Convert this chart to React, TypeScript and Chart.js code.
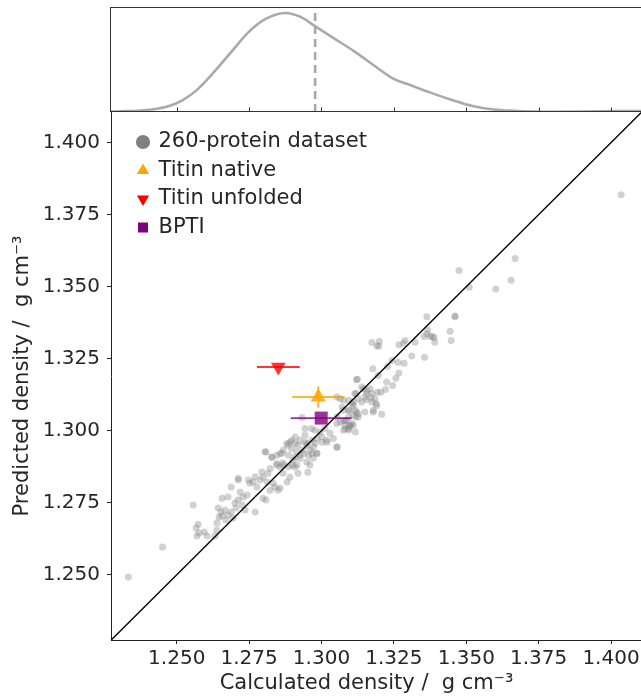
import React, { useEffect, useRef } from 'react';
import { Chart, registerables } from 'chart.js';

Chart.register(...registerables);

// ---------- axis ranges / ticks ----------
const X_MIN = 1.2273;
const X_MAX = 1.4107;
const Y_MIN = 1.2274;
const Y_MAX = 1.4106;
const tickValues = [1.25, 1.275, 1.3, 1.325, 1.35, 1.375, 1.4];

// ---------- 260-protein dataset (calculated vs predicted density) ----------
const calculated = [
  1.2333, 1.2451, 1.2557, 1.2574, 1.2567, 1.2570, 1.2595, 1.2605, 1.2577, 1.2632,
  1.2639, 1.2646, 1.2639, 1.2657, 1.2677, 1.2688, 1.2643, 1.2653, 1.2667, 1.2677,
  1.2688, 1.2695, 1.2670, 1.2657, 1.2705, 1.2701, 1.2712, 1.2726, 1.2736, 1.2729,
  1.2743, 1.2719, 1.2712, 1.2753, 1.2764, 1.2777, 1.2788, 1.2798, 1.2815, 1.2812,
  1.2822, 1.2798, 1.2808, 1.2771, 1.2839, 1.2850, 1.2857, 1.2833, 1.2867, 1.2881,
  1.2891, 1.2857, 1.2867, 1.2846, 1.2829, 1.2846, 1.2864, 1.2808, 1.2898, 1.2908,
  1.2919, 1.2902, 1.2926, 1.2936, 1.2960, 1.2953, 1.2971, 1.2967, 1.2984, 1.2950,
  1.2943, 1.2884, 1.2891, 1.2908, 1.2919, 1.2978, 1.3002, 1.3019, 1.3054,
  1.3174, 1.3191, 1.3177, 1.3196, 1.3121, 1.3139, 1.3156, 1.3174, 1.3185, 1.3150,
  1.3115, 1.3127, 1.3139, 1.3174, 1.3191, 1.3110, 1.3093, 1.3076, 1.3121, 1.3150,
  1.3179, 1.3127, 1.3110, 1.3087, 1.3081, 1.3098, 1.3093, 1.3076, 1.3105, 1.3053,
  1.3071, 1.3094, 1.3106, 1.3053, 1.3094, 1.3082, 1.3065, 1.3053, 1.3082, 1.3094,
  1.3117,
  1.2933, 1.2943, 1.2966, 1.2977, 1.2995, 1.3012, 1.3029, 1.3041, 1.3053, 1.3018,
  1.3001, 1.2984, 1.2966, 1.2949, 1.2926, 1.2943, 1.2909, 1.2897, 1.2880, 1.2868,
  1.2857, 1.2886, 1.2897, 1.2915, 1.2909, 1.2926, 1.2938, 1.2955, 1.2961, 1.2972,
  1.2984, 1.2949, 1.2915, 1.2886, 1.2868, 1.2846, 1.2823, 1.2805, 1.2828, 1.2794,
  1.2771, 1.2748, 1.2713,
  1.3364, 1.3461, 1.3461, 1.3444, 1.3448, 1.3367, 1.3354, 1.3375, 1.3389, 1.3391,
  1.3364, 1.3323, 1.3289, 1.3283, 1.3268, 1.3200, 1.3198, 1.3312, 1.3356, 1.3243,
  1.3264, 1.3285, 1.3228, 1.3124, 1.3267, 1.3257, 1.3225, 1.3205, 1.3193, 1.3221,
  1.3246, 1.3145, 1.3168, 1.3156, 1.3171, 1.3189, 1.3208, 1.3179, 1.3156, 1.3119,
  1.3110, 1.3076, 1.3064, 1.3116, 1.3119, 1.3127, 1.3096, 1.3076, 1.3110, 1.3099,
  1.4035, 1.3669, 1.3655, 1.3602, 1.3475, 1.3510, 1.3383,
];
const predicted = [
  1.2493, 1.2597, 1.2742, 1.2676, 1.2663, 1.2635, 1.2649, 1.2635, 1.2645, 1.2635,
  1.2680, 1.2701, 1.2656, 1.2766, 1.2770, 1.2805, 1.2732, 1.2718, 1.2725, 1.2708,
  1.2718, 1.2697, 1.2690, 1.2704, 1.2732, 1.2749, 1.2760, 1.2742, 1.2725, 1.2770,
  1.2777, 1.2787, 1.2829, 1.2818, 1.2822, 1.2805, 1.2829, 1.2839, 1.2853, 1.2822,
  1.2794, 1.2766, 1.2760, 1.2718, 1.2805, 1.2794, 1.2801, 1.2818, 1.2853, 1.2822,
  1.2839, 1.2874, 1.2888, 1.2881, 1.2908, 1.2915, 1.2922, 1.2926, 1.2881, 1.2874,
  1.2853, 1.2898, 1.2915, 1.2933, 1.2881, 1.2856, 1.2905, 1.2922, 1.2922, 1.2950,
  1.2960, 1.2950, 1.2960, 1.2957, 1.2950, 1.2957, 1.2960, 1.2960, 1.2943,
  1.3306, 1.3294, 1.3215, 1.3192, 1.3177, 1.3152, 1.3140, 1.3129, 1.3111, 1.3117,
  1.3129, 1.3111, 1.3100, 1.3100, 1.3088, 1.3088, 1.3071, 1.3071, 1.3065, 1.3065,
  1.3065, 1.3048, 1.3054, 1.3036, 1.3019, 1.3019, 1.3008, 1.3002, 1.3025, 1.3117,
  1.3082, 1.3106, 1.3094, 1.3048, 1.3048, 1.3036, 1.3030, 1.3025, 1.3008, 1.3002,
  1.2996,
  1.3046, 1.3008, 1.3008, 1.3002, 1.2996, 1.3008, 1.2991, 1.2973, 1.2944, 1.2967,
  1.2978, 1.2973, 1.2967, 1.2956, 1.2967, 1.2984, 1.2978, 1.2967, 1.2956, 1.2933,
  1.2921, 1.2915, 1.2938, 1.2927, 1.2909, 1.2904, 1.2921, 1.2915, 1.2933, 1.2944,
  1.2921, 1.2892, 1.2881, 1.2875, 1.2881, 1.2886, 1.2869, 1.2927, 1.2909, 1.2857,
  1.2840, 1.2829, 1.2835,
  1.3396, 1.3396, 1.3398, 1.3345, 1.3313, 1.3350, 1.3327, 1.3327, 1.3324, 1.3307,
  1.3336, 1.3307, 1.3313, 1.3304, 1.3298, 1.3311, 1.3294, 1.3259, 1.3255, 1.3244,
  1.3238, 1.3234, 1.3223, 1.3179, 1.3200, 1.3182, 1.3169, 1.3134, 1.3134, 1.3143,
  1.3157, 1.3146, 1.3146, 1.3129, 1.3115, 1.3094, 1.3057, 1.3071, 1.3108, 1.3129,
  1.3100, 1.3106, 1.3111, 1.3071, 1.3048, 1.3059, 1.3071, 1.3036, 1.3019, 1.3016,
  1.3819, 1.3598, 1.3522, 1.3492, 1.3556, 1.3498, 1.3327,
];

// ---------- highlighted systems ----------
const specialNames = ['Titin native', 'Titin unfolded', 'BPTI'];
const specialX = [1.2989, 1.2851, 1.2999];
const specialY = [1.3117, 1.3221, 1.3044];
const specialXErr = [0.009, 0.0074, 0.0105];
const specialYErr = [0.0037, 0, 0];

// ---------- marginal KDE (top panel) ----------
const kdeX = [
  1.2271, 1.2414, 1.2474, 1.2521, 1.2569, 1.2629, 1.2688, 1.2748, 1.2807, 1.2875,
  1.2926, 1.298, 1.3046, 1.3117, 1.3189, 1.3248, 1.3308, 1.3379, 1.3451, 1.3522,
  1.3594, 1.3665, 1.3785, 1.39, 1.3999, 1.4104,
];
const kdeY = [
  0.06, 0.52, 1.21, 2.41, 4.42, 8.08, 12.1, 16.12, 18.79, 20.0,
  19.25, 17.24, 14.77, 12.1, 9.08, 6.75, 5.41, 3.86, 2.41, 1.21,
  0.52, 0.26, 0.06, 0.08, 0.2, 0.2,
];
const meanDensity = 1.2978;
const KDE_MAX = 21;

// ---------- styles ----------
const FONT = 'DejaVu Sans';
const TEXT = '#262626';
const legendNames = ['260-protein dataset', 'Titin native', 'Titin unfolded', 'BPTI'];
const legendColors = ['#808080', '#ffa500', '#ff0000', '#800080'];
const legendStyles = ['circle', 'triangle', 'triangle', 'rect'];
const legendRot = [0, 0, 180, 0];
const markerColors = ['rgba(255,165,0,0.85)', 'rgba(255,0,0,0.8)', 'rgba(128,0,128,0.8)'];
const barColors = ['rgba(255,165,0,0.8)', 'rgba(255,0,0,0.8)', 'rgba(128,0,128,0.8)'];
const barWidths = [2, 2, 1.6];
const markerStyles = ['triangle', 'triangle', 'rect'];
const markerRot = [0, 180, 0];
const markerRadius = [8.8, 8.5, 9.2];

const topFrame = {
  id: 'topFrame',
  afterDraw(chart: any) {
    const { ctx, chartArea } = chart;
    const x0 = Math.floor(chartArea.left) - 0.5;
    const y0 = Math.floor(chartArea.top) - 0.5;
    const x1 = Math.floor(chartArea.right) + 0.5;
    const y1 = Math.floor(chartArea.bottom) - 0.5;
    ctx.save();
    ctx.strokeStyle = '#333';
    ctx.lineWidth = 1;
    ctx.strokeRect(x0, y0, x1 - x0, y1 - y0);
    const xs = chart.scales.x;
    ctx.beginPath();
    tickValues.forEach((v) => {
      const px = Math.round(xs.getPixelForValue(v)) + 0.5;
      ctx.moveTo(px, y1);
      ctx.lineTo(px, y1 - 4);
    });
    ctx.stroke();
    ctx.restore();
  },
};

const legendShift = {
  id: 'legendShift',
  afterLayout(chart: any) {
    const lg = chart.legend;
    const ca = chart.chartArea;
    if (!lg) return;
    lg.left = ca.left + 19.5;
    lg.top = ca.top + 12;
    lg.right = ca.right;
    lg.bottom = ca.bottom;
  },
};

export default function App() {
  const topRef = useRef<HTMLCanvasElement>(null);
  const mainRef = useRef<HTMLCanvasElement>(null);

  useEffect(() => {
    if (!topRef.current || !mainRef.current) return;

    const topChart = new Chart(topRef.current, {
      type: 'line',
      data: {
        datasets: [
          {
            data: kdeX.map((x, i) => ({ x, y: kdeY[i] })),
            borderColor: '#aaaaaa',
            borderWidth: 2.6,
            pointRadius: 0,
            cubicInterpolationMode: 'monotone',
            fill: false,
          },
          {
            data: [
              { x: meanDensity, y: 0 },
              { x: meanDensity, y: KDE_MAX },
            ],
            borderColor: '#a8a8a8',
            borderWidth: 2.6,
            borderDash: [8, 5],
            pointRadius: 0,
            fill: false,
          },
        ],
      } as any,
      options: {
        animation: false,
        responsive: false,
        maintainAspectRatio: false,
        devicePixelRatio: 1,
        events: [],
        layout: { padding: { left: 111, right: 18, top: 8, bottom: 4 } },
        scales: {
          x: { type: 'linear', display: false, min: X_MIN, max: X_MAX },
          y: { type: 'linear', display: false, min: 0, max: KDE_MAX },
        },
        plugins: { legend: { display: false }, tooltip: { enabled: false } },
      } as any,
      plugins: [topFrame],
    });

    const datasets: any[] = [];
    // markers (drawn on top)
    specialNames.forEach((name, i) => {
      datasets.push({
        label: name,
        data: [{ x: specialX[i], y: specialY[i] }],
        pointStyle: markerStyles[i],
        rotation: markerRot[i],
        pointRadius: markerRadius[i],
        backgroundColor: markerColors[i],
        borderColor: markerColors[i],
        borderWidth: 0,
      });
    });
    // error bars
    specialNames.forEach((name, i) => {
      datasets.push({
        label: name + ' x-err',
        data: [
          { x: specialX[i] - specialXErr[i], y: specialY[i] },
          { x: specialX[i] + specialXErr[i], y: specialY[i] },
        ],
        showLine: true,
        pointRadius: 0,
        borderColor: barColors[i],
        borderWidth: barWidths[i],
      });
      if (specialYErr[i] > 0) {
        datasets.push({
          label: name + ' y-err',
          data: [
            { x: specialX[i], y: specialY[i] - specialYErr[i] },
            { x: specialX[i], y: specialY[i] + specialYErr[i] },
          ],
          showLine: true,
          pointRadius: 0,
          borderColor: barColors[i],
          borderWidth: barWidths[i],
        });
      }
    });
    // identity line
    datasets.push({
      label: 'y = x',
      data: [
        { x: X_MIN, y: X_MIN },
        { x: X_MAX, y: X_MAX },
      ],
      showLine: true,
      pointRadius: 0,
      borderColor: '#000000',
      borderWidth: 1.3,
    });
    // dataset points
    datasets.push({
      label: '260-protein dataset',
      data: calculated.map((x, i) => ({ x, y: predicted[i] })),
      pointRadius: 3.5,
      backgroundColor: 'rgba(128,128,128,0.36)',
      borderColor: 'rgba(128,128,128,0.36)',
      borderWidth: 0,
    });

    const tickFont = { family: FONT, size: 20 };
    const titleFont = { family: FONT, size: 21 };

    const mainChart = new Chart(mainRef.current, {
      type: 'scatter',
      data: { datasets },
      options: {
        animation: false,
        responsive: false,
        maintainAspectRatio: false,
        devicePixelRatio: 1,
        events: [],
        layout: { padding: { top: 112, right: 18, left: 0, bottom: 0 } },
        scales: {
          x: {
            type: 'linear',
            min: X_MIN,
            max: X_MAX,
            afterBuildTicks: (s: any) => {
              s.ticks = tickValues.map((v) => ({ value: v }));
            },
            afterFit: (s: any) => {
              s.height = 56;
            },
            ticks: {
              callback: (v: any) => Number(v).toFixed(3),
              font: tickFont,
              color: TEXT,
              padding: 3,
              maxRotation: 0,
              autoSkip: false,
            },
            grid: {
              drawOnChartArea: false,
              drawTicks: true,
              tickLength: 4,
              tickColor: '#222',
            },
            border: { display: true, color: '#222', width: 1 },
            title: {
              display: true,
              text: 'Calculated density /  g cm\u207B\u00B3   ',
              font: titleFont,
              color: TEXT,
              padding: { top: 0, bottom: 0 },
            },
          },
          y: {
            type: 'linear',
            min: Y_MIN,
            max: Y_MAX,
            afterBuildTicks: (s: any) => {
              s.ticks = tickValues.map((v) => ({ value: v }));
            },
            afterFit: (s: any) => {
              s.width = 111;
            },
            ticks: {
              callback: (v: any) => Number(v).toFixed(3),
              font: tickFont,
              color: TEXT,
              padding: 7,
              autoSkip: false,
            },
            grid: {
              drawOnChartArea: false,
              drawTicks: true,
              tickLength: 4,
              tickColor: '#222',
            },
            border: { display: true, color: '#222', width: 1 },
            title: {
              display: true,
              text: 'Predicted density /  g cm\u207B\u00B3',
              font: titleFont,
              color: TEXT,
              padding: { top: 10, bottom: 0 },
            },
          },
        },
        plugins: {
          tooltip: { enabled: false },
          legend: {
            display: true,
            position: 'chartArea',
            align: 'start',
            labels: {
              usePointStyle: true,
              boxWidth: 10,
              boxHeight: 10,
              padding: 7.5,
              font: { family: FONT, size: 21 },
              color: TEXT,
              generateLabels: () =>
                legendNames.map((t, i) => ({
                  text: t,
                  fillStyle: legendColors[i],
                  strokeStyle: legendColors[i],
                  lineWidth: 0,
                  pointStyle: legendStyles[i],
                  rotation: legendRot[i],
                  hidden: false,
                  datasetIndex: i,
                  fontColor: TEXT,
                })),
            },
          },
        },
      } as any,
      plugins: [legendShift],
    });

    return () => {
      topChart.destroy();
      mainChart.destroy();
    };
  }, []);

  return (
    <div
      style={{
        position: 'fixed',
        left: 0,
        top: 0,
        width: 641,
        height: 696,
        overflow: 'hidden',
        background: '#ffffff',
      }}
    >
      <canvas
        ref={topRef}
        width={660}
        height={116}
        style={{ position: 'absolute', left: 0, top: 0, width: 660, height: 116 }}
      />
      <canvas
        ref={mainRef}
        width={660}
        height={696}
        style={{ position: 'absolute', left: 0, top: 0, width: 660, height: 696 }}
      />
    </div>
  );
}
